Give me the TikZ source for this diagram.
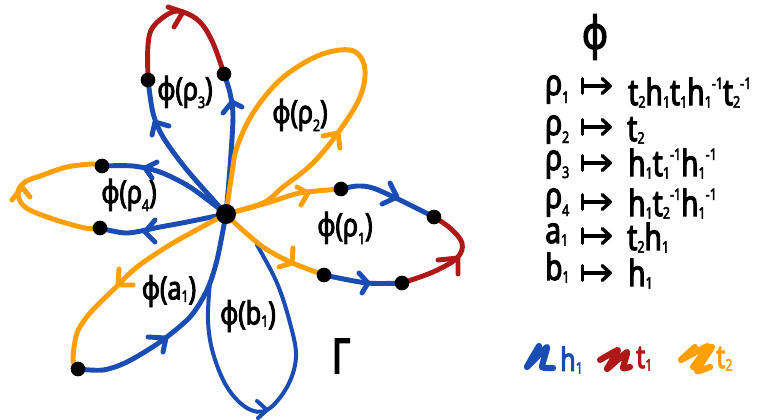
\documentclass[tikz,border=0pt]{standalone}
\usepackage{fontspec}
\usetikzlibrary{backgrounds,arrows.meta}
\setmainfont[FakeStretch=0.78,FakeBold=3]{Noto Sans}
\definecolor{hblue}{HTML}{1A4DB3}
\definecolor{tred}{HTML}{B01818}
\definecolor{torange}{HTML}{FFA000}
\newcommand\lo[1]{\raisebox{-2pt}{\fontsize{12}{12}\selectfont #1}}
\newcommand\rlo[1]{\raisebox{-6pt}{\fontsize{12}{12}\selectfont #1}}
\newcommand\hi[1]{\raisebox{12pt}{\fontsize{12}{12}\selectfont #1}}
\tikzset{
  x=0.75pt,y=-0.75pt,
  ink/.style={line width=3.7pt,line cap=round,line join=round},
  thinink/.style={line width=3pt,line cap=round,line join=round},
  blob/.style={circle,fill=black,inner sep=0pt,minimum size=11pt},
  hub/.style={circle,fill=black,inner sep=0pt,minimum size=15pt},
  looplabel/.style={font=\fontsize{24}{24}\selectfont,inner sep=0pt},
  rowtext/.style={font=\fontsize{27}{27}\selectfont,anchor=base west,inner sep=0pt},
  keytext/.style={font=\fontsize{24}{24}\selectfont,anchor=base west,inner sep=0pt},
  scribble/.style={line width=4.6pt,line cap=round,line join=round},
  maparrow/.style={line width=2.6pt,line cap=round,{Bar[width=11pt,round]}-{Straight Barb[length=6pt,width=11pt,round]}},
}
\begin{document}
\begin{tikzpicture}
\useasboundingbox (0,0) rectangle (757,419);
\node[hub] (c) at (226,214) {};
\node[blob] (A) at (148,80) {};
\node[blob] (B) at (224,74) {};
\node[blob] (C) at (102,166) {};
\node[blob] (D) at (100,228) {};
\node[blob] (E) at (78,369) {};
\node[blob] (F) at (324,275) {};
\node[blob] (G) at (402,283) {};
\node[blob] (H) at (434,217) {};
\node[blob] (I) at (341,189) {};
\begin{pgfonlayer}{background}
% p3
\draw[ink,hblue] plot[smooth,tension=0.5] coordinates {(c.center) (187,170) (163,137) (153,113) (A.center)};
\draw[ink,hblue] (169,126) -- (155,122) -- (152,135);
\draw[ink,hblue] plot[smooth,tension=0.5] coordinates {(c.center) (230,167) (233,117) (230,93) (B.center)};
\draw[ink,hblue] (223,113) -- (232,102) -- (242,107);
\draw[ink,tred] plot[smooth,tension=0.6] coordinates {(A.center) (148,45) (153,27) (170,13) (183,12) (200,22) (213,43) (B.center)};
\draw[ink,tred] (168,7) -- (183,12) -- (174,27);
% p4
\draw[ink,hblue] plot[smooth,tension=0.5] coordinates {(c.center) (190,187) (160,172) (133,166) (C.center)};
\draw[ink,hblue] (157,162) -- (145,168) -- (152,178);
\draw[ink,torange] plot[smooth,tension=0.6] coordinates {(C.center) (93,164) (67,167) (43,175) (25,182) (18,193) (25,207) (50,218) (85,228) (D.center)};
\draw[ink,torange] (30,197) -- (22,187) -- (12,200);
\draw[ink,hblue] plot[smooth,tension=0.5] coordinates {(D.center) (127,233) (160,227) (187,222) (c.center)};
\draw[ink,hblue] (155,220) -- (145,232) -- (155,242);
% a1
\draw[ink,torange] plot[smooth,tension=0.5] coordinates {(c.center) (173,243) (137,267) (113,290) (90,313) (77,333) (73,360) (E.center)};
\draw[ink,torange] (119,269) -- (118,285) -- (133,285);
\draw[ink,hblue] plot[smooth,tension=0.5] coordinates {(E.center) (103,370) (127,362) (160,342) (190,317) (207,290) (217,260) (c.center)};
\draw[ink,hblue] (148,337) -- (166,338) -- (163,352);
% b1
\draw[thinink,hblue] plot[smooth,tension=0.6] coordinates {(210,282) (208,320) (213,353) (227,387) (247,408) (267,410) (287,387) (296,357) (290,323) (277,283) (257,245)};
\draw[thinink,hblue] (257,401) -- (267,410) -- (258,418);
% p2
\draw[ink,torange] plot[smooth,tension=0.6] coordinates {(c.center) (232,173) (237,147) (253,113) (280,80) (313,58) (340,50) (357,53) (365,70) (360,97) (340,130) (313,163) (283,187) (263,203) (c.center)};
\draw[ink,torange] (323,136) -- (338,133) -- (340,148);
% p1
\draw[ink,torange] plot[smooth,tension=0.5] coordinates {(c.center) (267,203) (300,193) (I.center)};
\draw[ink,torange] (297,187) -- (308,193) -- (301,205);
\draw[ink,hblue] plot[smooth,tension=0.5] coordinates {(I.center) (357,186) (373,188) (400,200) (H.center)};
\draw[ink,hblue] (390,183) -- (397,197) -- (382,204);
\draw[ink,tred] plot[smooth,tension=0.6] coordinates {(G.center) (433,272) (457,258) (462,243) (450,228) (H.center)};
\draw[ink,tred] (438,260) -- (458,258) -- (458,274);
\draw[ink,hblue] plot[smooth,tension=0.5] coordinates {(F.center) (367,283) (G.center)};
\draw[ink,hblue] (359,273) -- (368,283) -- (362,293);
\draw[ink,torange] plot[smooth,tension=0.5] coordinates {(c.center) (237,225) (263,247) (290,262) (F.center)};
\draw[ink,torange] (293,248) -- (292,263) -- (279,267);
\end{pgfonlayer}
% loop labels
\node[looplabel] (l3) at (185,92) {ϕ(ρ\rlo{3})};
\node[looplabel] (l2) at (300,115) {ϕ(ρ\rlo{2})};
\node[looplabel] (l4) at (129,195) {ϕ(ρ\rlo{4})};
\node[looplabel] (l1) at (345,228) {ϕ(ρ\rlo{1})};
\node[looplabel] (la) at (169,291) {ϕ(a\lo{1})};
\node[looplabel] (lb) at (248,316) {ϕ(b\lo{1})};
\node[font=\fontsize{36}{36}\selectfont,inner sep=0pt] (gam) at (341,356) {Γ};
% table
\node[font=\fontsize{34}{34}\selectfont,inner sep=0pt] (phi) at (595,37) {ϕ};
\node[rowtext] (r1) at (545,95) {ρ\rlo{1}};
\node[rowtext] (r2) at (545,135) {ρ\rlo{2}};
\node[rowtext] (r3) at (545,170) {ρ\rlo{3}};
\node[rowtext] (r4) at (545,208) {ρ\rlo{4}};
\node[rowtext] (r5) at (545,243) {a\lo{1}};
\node[rowtext] (r6) at (545,280) {b\lo{1}};
\node[rowtext] (s1) at (628,105) {t\lo{2}h\lo{1}t\lo{1}h\lo{1}\hi{-1}t\lo{2}\hi{-1}};
\node[rowtext] (s2) at (627,141) {t\lo{2}};
\node[rowtext] (s3) at (628,176) {h\lo{1}t\lo{1}\hi{-1}h\lo{1}\hi{-1}};
\node[rowtext] (s4) at (628,216) {h\lo{1}t\lo{2}\hi{-1}h\lo{1}\hi{-1}};
\node[rowtext] (s5) at (627,250) {t\lo{2}h\lo{1}};
\node[rowtext] (s6) at (628,286) {h\lo{1}};
\foreach \y/\n in {86/1,127/2,163/3,202/4,236/5,273/6}{
  \coordinate (ma\n) at (581,\y);
  \coordinate (mb\n) at (612,\y);
  \draw[maparrow] (ma\n) -- (mb\n);
}
% legend
\draw[scribble,hblue] plot[smooth,tension=0.25] coordinates {(539,346) (527,367) (547,347) (542,367) (553,368)};
\draw[scribble,tred] plot[smooth,tension=0.25] coordinates {(600,360) (618,350) (607,369) (627,352) (623,368) (630,367)};
\draw[scribble,torange] plot[smooth,tension=0.25] coordinates {(695,347) (681,360) (708,346) (693,367) (712,347) (697,371) (710,367)};
\node[keytext,text=hblue] (kh) at (560,371) {h\lo{1}};
\node[keytext,text=tred] (kt) at (636,368) {t\lo{1}};
\node[keytext,text=torange] (ko) at (716,368) {t\lo{2}};
\end{tikzpicture}
\end{document}
